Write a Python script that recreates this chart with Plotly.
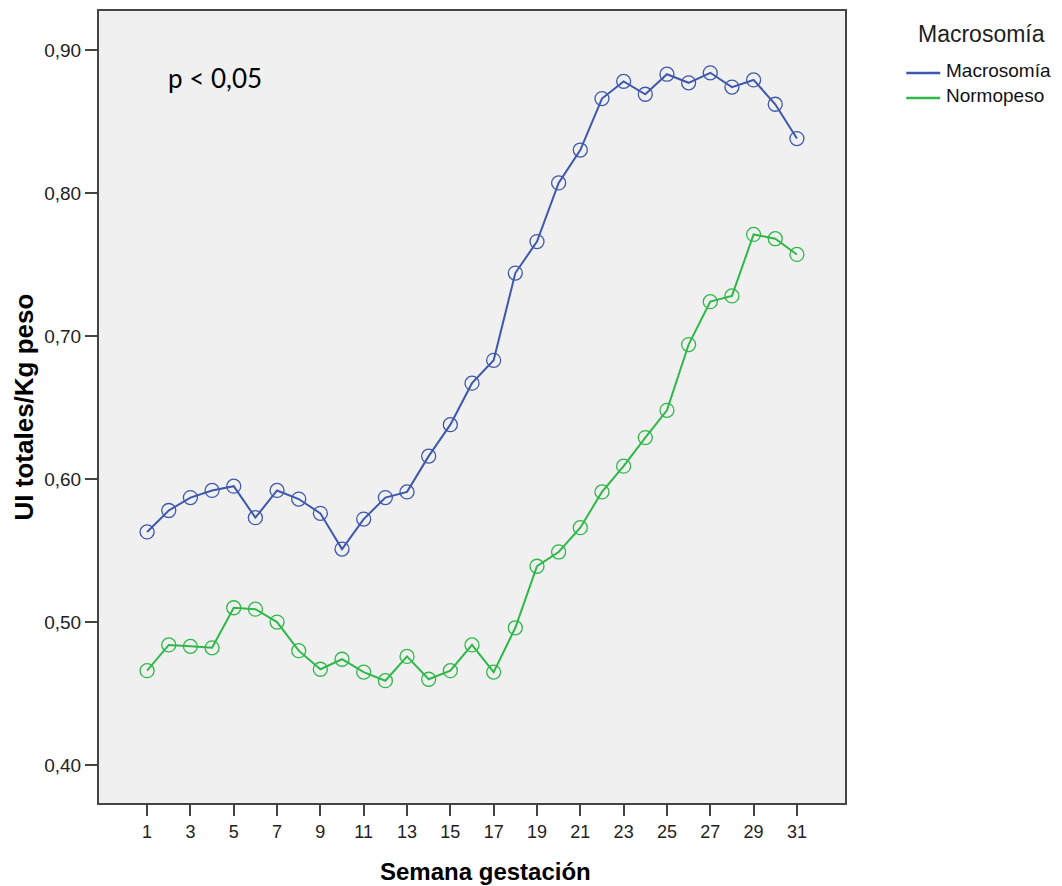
import plotly.graph_objects as go

semanas = list(range(1, 32))
macrosomia = [0.563, 0.578, 0.587, 0.592, 0.595, 0.573, 0.592, 0.586, 0.576, 0.551,
              0.572, 0.587, 0.591, 0.616, 0.638, 0.667, 0.683, 0.744, 0.766, 0.807,
              0.830, 0.866, 0.878, 0.869, 0.883, 0.877, 0.884, 0.874, 0.879, 0.862,
              0.838]
normopeso = [0.466, 0.484, 0.483, 0.482, 0.510, 0.509, 0.500, 0.480, 0.467, 0.474,
             0.465, 0.459, 0.476, 0.460, 0.466, 0.484, 0.465, 0.496, 0.539, 0.549,
             0.566, 0.591, 0.609, 0.629, 0.648, 0.694, 0.724, 0.728, 0.771, 0.768,
             0.757]
series_names = ["Macrosomía", "Normopeso"]
legend_title = "Macrosomía"
colors = ["#3E58AC", "#2EB848"]
y_ticks = [0.40, 0.50, 0.60, 0.70, 0.80, 0.90]
y_ticklabels = ["0,40", "0,50", "0,60", "0,70", "0,80", "0,90"]
x_ticks = list(range(1, 32, 2))

# pixel -> paper helpers (plot area: x 99.3..845.7, y 9.3..803)
def px(xp):
    return (xp - 99.3) / 746.4

def py(yp):
    return (803 - yp) / 793.7

fig = go.Figure()
for name, vals, col in zip(series_names, [macrosomia, normopeso], colors):
    fig.add_trace(go.Scatter(
        x=semanas, y=vals, mode="lines+markers", name=name, showlegend=False,
        line=dict(color=col, width=2),
        marker=dict(symbol="circle-open", size=14, color=col, line=dict(width=1.3, color=col)),
    ))

fig.add_annotation(
    text="p < 0,05", xref="paper", yref="paper", x=0.0903, y=0.915,
    xanchor="left", yanchor="middle", showarrow=False,
    font=dict(family="Lato, Open Sans, sans-serif", size=26, color="#000000"),
)
# legend drawn manually
fig.add_annotation(
    text=legend_title, xref="paper", yref="paper", x=px(917), y=py(32),
    xanchor="left", yanchor="middle", showarrow=False,
    font=dict(family="Liberation Sans, Arial, sans-serif", size=23, color="#222222"),
)
for i, (name, col) in enumerate(zip(series_names, colors)):
    yc = 71.5 + 25 * i
    fig.add_shape(type="line", xref="paper", yref="paper",
                  x0=px(907), x1=px(941), y0=py(yc), y1=py(yc),
                  line=dict(color=col, width=2.5))
    fig.add_annotation(
        text=name, xref="paper", yref="paper", x=px(945), y=py(yc - 2.5),
        xanchor="left", yanchor="middle", showarrow=False,
        font=dict(family="Liberation Sans, Arial, sans-serif", size=19, color="#111111"),
    )
fig.add_annotation(
    text="<b>Semana gestación</b>", xref="paper", yref="paper", x=px(486.5),
    y=py(872), xanchor="center", yanchor="middle", showarrow=False,
    font=dict(family="Liberation Sans, Arial, sans-serif", size=24, color="#000000"),
)

fig.update_layout(
    width=1054, height=878,
    margin=dict(l=91, r=216.6, t=1, b=83.3, pad=0),
    paper_bgcolor="#FFFFFF", plot_bgcolor="#F0F0F0",
    font=dict(family="Liberation Sans, Arial, sans-serif", color="#000000"),
    showlegend=False,
    xaxis=dict(
        range=[-1.22, 33.22], tickmode="array", tickvals=x_ticks,
        ticktext=[str(v) for v in x_ticks],
        ticks="outside", ticklen=11, tickwidth=2, tickcolor="#444444",
        tickfont=dict(size=18, color="#222222"),
        showline=True, mirror=True, linecolor="#444444", linewidth=2,
        showgrid=False, zeroline=False,
    ),
    yaxis=dict(
        range=[0.3735, 0.9272], tickmode="array", tickvals=y_ticks,
        ticktext=y_ticklabels,
        ticks="outside", ticklen=12, tickwidth=2, tickcolor="#444444",
        tickfont=dict(size=19, color="#222222"),
        showline=True, mirror=True, linecolor="#444444", linewidth=2,
        showgrid=False, zeroline=False,
        title=dict(text="<b>UI totales/Kg peso</b>", font=dict(size=26, color="#000000"), standoff=3),
    ),
)

fig.write_html("out.html")
